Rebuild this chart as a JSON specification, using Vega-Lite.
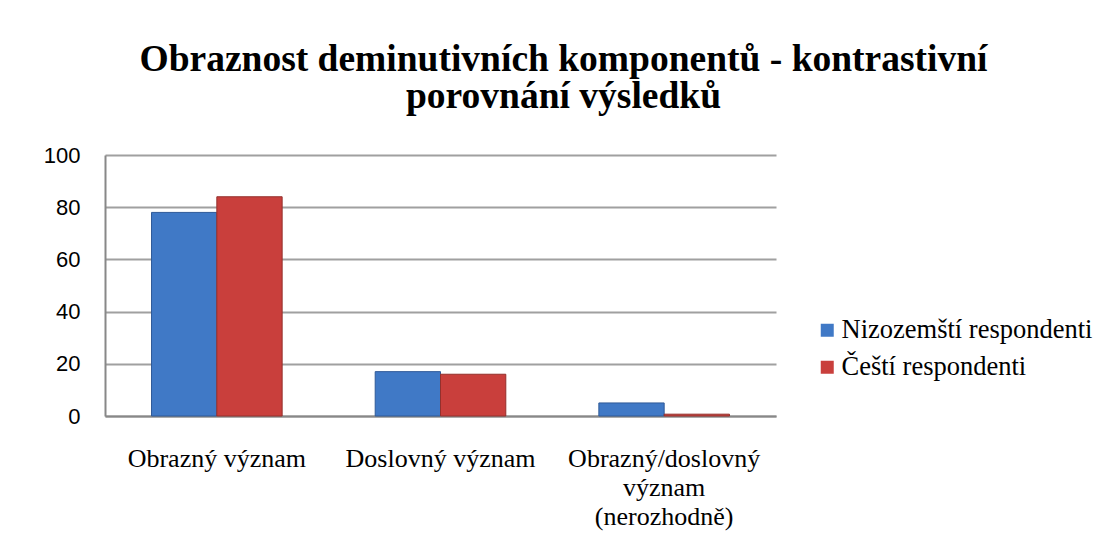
{
  "$schema": "https://vega.github.io/schema/vega-lite/v6.json",
  "width": 671,
  "height": 261,
  "autosize": {"type": "none"},
  "padding": {"left": 105, "top": 155, "right": 329, "bottom": 135},
  "background": "white",
  "title": {
    "text": ["Obraznost deminutivních komponentů - kontrastivní", "porovnání výsledků"],
    "font": "Liberation Serif",
    "fontSize": 37.5,
    "fontWeight": "bold",
    "color": "#000000",
    "anchor": "middle",
    "lineHeight": 37,
    "dx": 123,
    "dy": 48,
    "offset": 47,
    "limit": 0,
    "baseline": "alphabetic"
  },
  "data": {
    "values": [
      {"kategorie": "Obrazný význam", "skupina": "Nizozemští respondenti", "hodnota": 78},
      {"kategorie": "Obrazný význam", "skupina": "Čeští respondenti", "hodnota": 84},
      {"kategorie": "Doslovný význam", "skupina": "Nizozemští respondenti", "hodnota": 17},
      {"kategorie": "Doslovný význam", "skupina": "Čeští respondenti", "hodnota": 16},
      {"kategorie": "Obrazný/doslovný význam (nerozhodně)", "skupina": "Nizozemští respondenti", "hodnota": 5},
      {"kategorie": "Obrazný/doslovný význam (nerozhodně)", "skupina": "Čeští respondenti", "hodnota": 0.7}
    ]
  },
  "mark": {"type": "bar", "strokeWidth": 1},
  "encoding": {
    "x": {
      "field": "kategorie",
      "type": "nominal",
      "sort": null,
      "scale": {"paddingInner": 0.416, "paddingOuter": 0.208},
      "axis": {
        "title": null,
        "labelAngle": 0,
        "labelFont": "Liberation Serif",
        "labelFontSize": 26,
        "labelColor": "#000000",
        "labelPadding": 29,
        "labelLineHeight": 29,
        "labelLimit": 0,
        "ticks": false,
        "domainColor": "#888888",
        "domainWidth": 2,
        "labelExpr": "datum.value == 'Obrazný/doslovný význam (nerozhodně)' ? ['Obrazný/doslovný', 'význam', '(nerozhodně)'] : datum.value"
      }
    },
    "xOffset": {
      "field": "skupina",
      "type": "nominal",
      "sort": ["Nizozemští respondenti", "Čeští respondenti"],
      "scale": {"paddingInner": 0, "paddingOuter": 0}
    },
    "y": {
      "field": "hodnota",
      "type": "quantitative",
      "scale": {"domain": [0, 100], "nice": false},
      "axis": {
        "title": null,
        "values": [0, 20, 40, 60, 80, 100],
        "labelFont": "Liberation Sans",
        "labelFontSize": 22,
        "labelColor": "#000000",
        "labelPadding": 25,
        "ticks": false,
        "domain": true,
        "domainColor": "#888888",
        "domainWidth": 2,
        "grid": true,
        "gridColor": "#a0a0a0",
        "gridWidth": 2
      }
    },
    "color": {
      "field": "skupina",
      "type": "nominal",
      "sort": ["Nizozemští respondenti", "Čeští respondenti"],
      "scale": {
        "domain": ["Nizozemští respondenti", "Čeští respondenti"],
        "range": ["#4079c6", "#c93f3c"]
      },
      "legend": {
        "title": null,
        "orient": "none",
        "legendX": 709,
        "legendY": 162,
        "symbolType": "square",
        "symbolSize": 169,
        "symbolStrokeWidth": 0,
        "symbolOpacity": 1,
        "labelFont": "Liberation Serif",
        "labelFontSize": 26.5,
        "labelColor": "#000000",
        "labelOffset": 1,
        "labelLimit": 0,
        "rowPadding": 10,
        "padding": 0
      }
    },
    "stroke": {
      "field": "skupina",
      "type": "nominal",
      "scale": {
        "domain": ["Nizozemští respondenti", "Čeští respondenti"],
        "range": ["#2f5a98", "#94302c"]
      },
      "legend": null
    }
  },
  "config": {
    "view": {"stroke": null}
  }
}
